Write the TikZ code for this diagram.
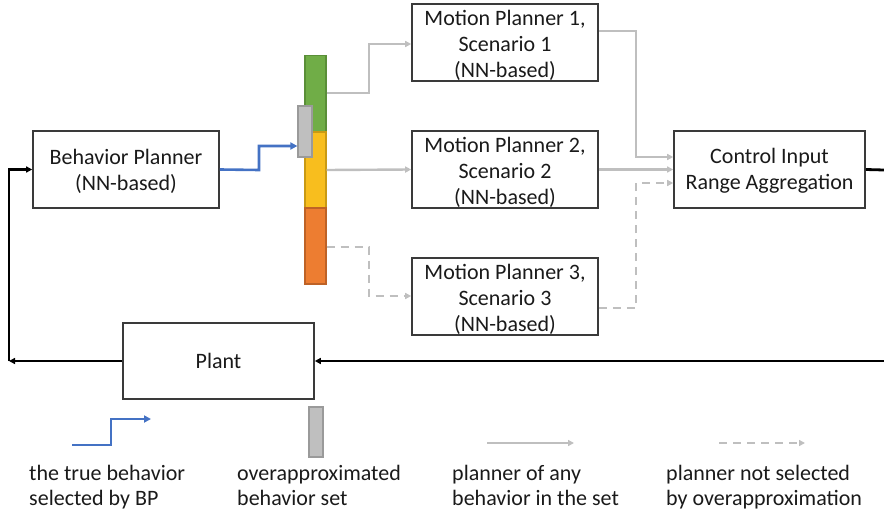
\documentclass[tikz,border=0pt]{standalone}
\usepackage{fontspec}
\setmainfont{Carlito}
\usetikzlibrary{arrows.meta,calc}
\definecolor{boxline}{HTML}{3A3A3A}
\definecolor{bpblue}{HTML}{4472C4}
\definecolor{setgrey}{HTML}{BFBFBF}
\definecolor{setgreyline}{HTML}{9A9A9A}
\definecolor{behgreen}{HTML}{70AD47}
\definecolor{behgreenline}{HTML}{5A8F38}
\definecolor{behyellow}{HTML}{F8BE1E}
\definecolor{behyellowline}{HTML}{C99A14}
\definecolor{behorange}{HTML}{ED7D31}
\definecolor{behorangeline}{HTML}{BE6226}
\definecolor{txt}{HTML}{1A1A1A}
\newcommand{\toppad}{\rule{0pt}{22pt}}
\tikzset{
  blockbox/.style={draw=boxline, line width=1.6pt, fill=white, inner sep=0pt,
    minimum width=186pt, minimum height=77pt, align=center, text=txt,
    font=\fontsize{22}{26}\selectfont},
  segbox/.style={line width=1.2pt, inner sep=0pt, minimum width=21pt, minimum height=76pt},
  selbox/.style={draw=setgreyline, fill=setgrey, line width=1.2pt, inner sep=0pt,
    minimum width=14pt, minimum height=51pt},
  tip/.style={-{Triangle[length=7pt,width=7pt]}},
  smalltip/.style={-{Triangle[length=6pt,width=6pt]}},
  truebeh/.style={draw=bpblue, line width=2.6pt, tip},
  anybeh/.style={draw=setgrey, line width=2.4pt, smalltip},
  notsel/.style={draw=setgrey, line width=2.4pt, dash pattern=on 8pt off 6pt, smalltip},
  feedback/.style={draw=black, line width=2.8pt},
  legendtext/.style={anchor=north west, align=left, inner sep=0pt, text=txt,
    font=\fontsize{22}{25}\selectfont}
}
\begin{document}
\begin{tikzpicture}[x=1pt,y=-1pt]
\useasboundingbox (0,0) rectangle (884,516);

% main blocks
\node[blockbox] (bp)   at (126,169.5)   {\strut Behavior Planner\\(NN-based)};
\node[blockbox] (mp1)  at (505,42.5)    {\toppad Motion Planner 1,\\Scenario 1\\(NN-based)};
\node[blockbox] (mp2)  at (505,169.5)   {\toppad Motion Planner 2,\\Scenario 2\\(NN-based)};
\node[blockbox] (mp3)  at (505,296.5)   {\toppad Motion Planner 3,\\Scenario 3\\(NN-based)};
\node[blockbox, minimum width=191pt] (cira) at (769.5,169.5) {\strut Control Input\\Range Aggregation};
\node[blockbox, minimum width=191pt, minimum height=76pt] (plant) at (218.5,361) {Plant};

% behavior set bar
\node[segbox, draw=behgreenline,  fill=behgreen]  (sgreen)  at (315.5,93.5)  {};
\node[segbox, draw=behyellowline, fill=behyellow] (syellow) at (315.5,170)   {};
\node[segbox, draw=behorangeline, fill=behorange] (sorange) at (315.5,246)   {};
\node[selbox] (sel) at (305,131.5) {};

% frame edge points of the loop
\coordinate (edgetop) at (884,170);
\coordinate (edgebot) at (884,361);
\coordinate (loopcorner) at (9,361);

% true behavior chosen by the behavior planner
\draw[truebeh] (bp.east) -- (259,170) -- (259,146) -- (sel.west |- 0,146);

% planners fed by the behavior set
\draw[anybeh] (sgreen.east |- 0,93) -- (369,93) -- (369,44) -- (mp1.west |- 0,44);
\draw[anybeh] (syellow.east) -- (mp2.west);
\draw[notsel] (sorange.east |- 0,247) -- (369,247) -- (369,296) -- (mp3.west |- 0,296);

% planner outputs into aggregation
\draw[anybeh] (mp1.east |- 0,31) -- (636,31) -- (636,157) -- (cira.west |- 0,157);
\draw[anybeh] (mp2.east) -- (cira.west);
\draw[notsel] (mp3.east |- 0,308) -- (636,308) -- (636,183) -- (cira.west |- 0,183);

% closed loop
\draw[feedback] (cira.east) -- (edgetop);
\draw[feedback, smalltip] (edgebot) -- (plant.east);
\draw[feedback, smalltip] (plant.west) -- (loopcorner);
\draw[feedback, smalltip] (loopcorner) -- (loopcorner |- bp.west) -- (bp.west);

% legend
\coordinate (lgA) at (72,445);
\draw[truebeh] (lgA) -- (111,445) -- (111,419) -- (151,419);
\node[selbox, minimum height=50pt] (lgB) at (316,432) {};
\coordinate (lgC1) at (487,443); \coordinate (lgC2) at (574,443);
\draw[anybeh] (lgC1) -- (lgC2);
\coordinate (lgD1) at (719,443); \coordinate (lgD2) at (805,443);
\draw[notsel] (lgD1) -- (lgD2);

\node[legendtext] (lt1) at (29,465)  {the true behavior\\selected by BP};
\node[legendtext] (lt2) at (237,465) {overapproximated\\behavior set};
\node[legendtext] (lt3) at (452,465) {planner of any\\behavior in the set};
\node[legendtext] (lt4) at (666,465) {planner not selected\\by overapproximation};
\end{tikzpicture}
\end{document}
